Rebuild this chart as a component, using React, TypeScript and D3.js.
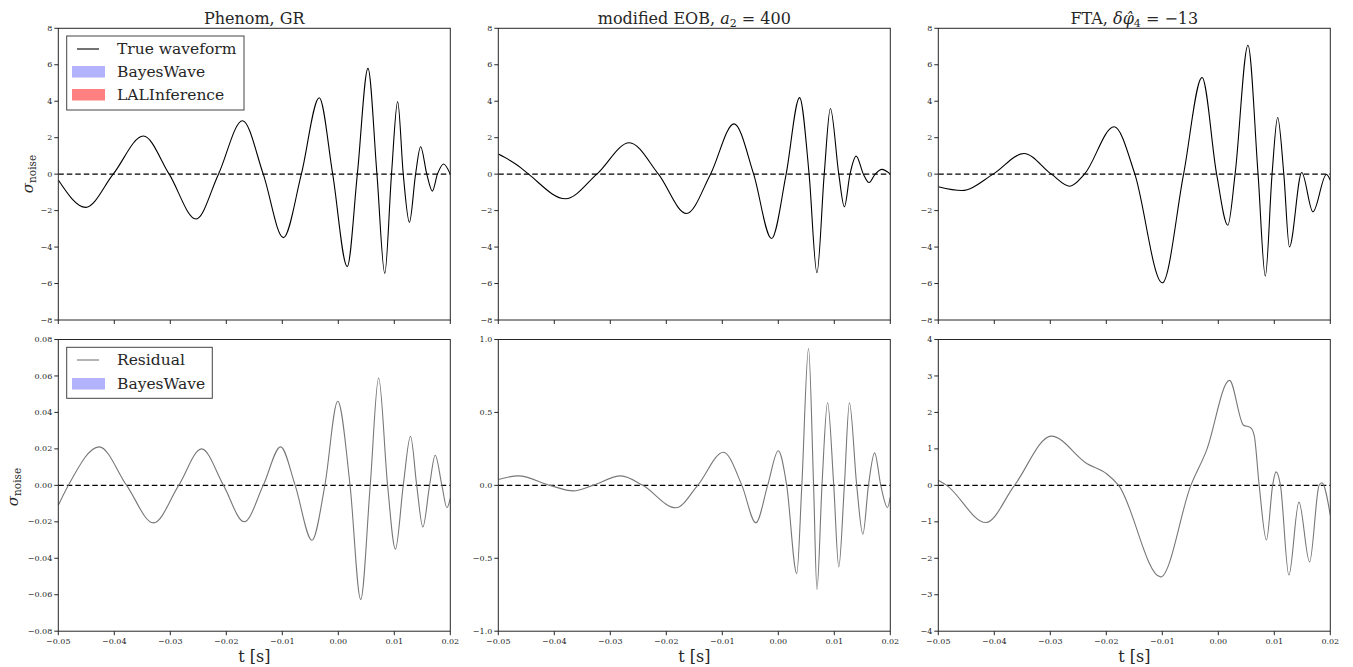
import React from "react";
import * as d3 from "d3";

// ---------- data ----------
const xTicks = [-0.05, -0.04, -0.03, -0.02, -0.01, 0.0, 0.01, 0.02];

const topTicks = [-8, -6, -4, -2, 0, 2, 4, 6, 8];
const resPTicks = [-0.08, -0.06, -0.04, -0.02, 0.0, 0.02, 0.04, 0.06, 0.08];
const resETicks = [-1.0, -0.5, 0.0, 0.5, 1.0];
const resFTicks = [-4, -3, -2, -1, 0, 1, 2, 3, 4];

// Phenom, GR – true waveform
const phenomT = [-0.05, -0.0451, -0.0402, -0.0348, -0.0302, -0.0254, -0.0214, -0.0171, -0.0134, -0.0098, -0.0066, -0.0034, -0.001, 0.0016, 0.0034, 0.0053, 0.0069, 0.0083, 0.0095, 0.0106, 0.0116, 0.0127, 0.0138, 0.0147, 0.0158, 0.0168, 0.0177, 0.0188, 0.02];
const phenomV = [-0.32, -1.82, 0, 2.09, 0, -2.46, 0, 2.93, 0, -3.48, 0, 4.19, 0, -5.07, 0, 5.8, 0, -5.44, 0, 3.98, 0, -2.64, 0, 1.5, 0, -0.93, 0, 0.56, 0];

// modified EOB – true waveform
const eobT = [-0.05, -0.0479, -0.0464, -0.0446, -0.038, -0.0324, -0.0266, -0.0214, -0.0164, -0.0121, -0.0079, -0.0044, -0.0012, 0.0014, 0.0038, 0.0055, 0.0069, 0.0082, 0.0093, 0.0108, 0.0118, 0.0128, 0.0139, 0.0152, 0.0162, 0.0173, 0.0185, 0.02];
const eobV = [1.1, 0.75, 0.45, 0, -1.35, 0, 1.72, 0, -2.16, 0, 2.76, 0, -3.53, 0, 4.2, 0, -5.41, 0, 3.6, 0, -1.79, 0, 0.99, 0, -0.46, 0, 0.26, 0];

// FTA – true waveform
const ftaT = [-0.05, -0.0458, -0.0402, -0.0347, -0.0298, -0.0265, -0.0239, -0.0186, -0.0149, -0.01, -0.0062, -0.0029, -0.0003, 0.0017, 0.003, 0.0053, 0.0071, 0.0084, 0.0096, 0.0106, 0.0117, 0.0127, 0.0149, 0.0169, 0.0193, 0.02];
const ftaV = [-0.69, -0.9, 0, 1.13, 0, -0.66, 0, 2.6, 0, -5.96, 0, 5.3, 0, -2.8, 0, 7.07, 0, -5.59, 0, 3.11, 0, -3.99, 0.09, -2.07, -0.02, -0.33];

// Phenom, GR – residual
const resPT = [-0.05, -0.0482, -0.0427, -0.0378, -0.033, -0.0285, -0.0244, -0.0205, -0.0168, -0.0134, -0.0103, -0.0077, -0.0047, -0.0024, -0.0001, 0.0021, 0.004, 0.0057, 0.0072, 0.0088, 0.0102, 0.0116, 0.0129, 0.014, 0.0151, 0.0163, 0.0173, 0.0185, 0.0194, 0.02];
const resPV = [-0.011, 0, 0.0211, 0, -0.0206, 0, 0.02, 0, -0.02, 0, 0.0211, 0, -0.0301, 0, 0.0461, 0, -0.0626, 0, 0.0589, 0, -0.035, 0, 0.0269, 0, -0.0228, 0, 0.0165, 0, -0.0123, -0.0072];

// modified EOB – residual
const resET = [-0.05, -0.0464, -0.0408, -0.0366, -0.0331, -0.0281, -0.0242, -0.0183, -0.0144, -0.0098, -0.0065, -0.004, -0.0019, 0.0, 0.0015, 0.0033, 0.0042, 0.0054, 0.0063, 0.0069, 0.0078, 0.0088, 0.0099, 0.0108, 0.0118, 0.0127, 0.014, 0.0151, 0.0161, 0.0172, 0.0183, 0.0195, 0.02];
const resEV = [0.04, 0.065, 0, -0.038, 0, 0.065, 0, -0.154, 0, 0.227, 0, -0.257, 0, 0.237, 0, -0.605, 0, 0.938, 0, -0.714, 0, 0.568, 0, -0.559, 0, 0.566, 0, -0.335, 0, 0.223, 0, -0.152, -0.08];

// FTA – residual
const resFT = [-0.05, -0.0485, -0.0415, -0.0364, -0.0298, -0.0235, -0.0199, -0.0178, -0.0103, -0.0049, -0.0021, 0.002, 0.0045, 0.0057, 0.0064, 0.0073, 0.0086, 0.0097, 0.0103, 0.0111, 0.0126, 0.0144, 0.0163, 0.018, 0.0185, 0.02];
const resFV = [0.142, 0, -1.02, 0, 1.35, 0.6, 0.31, 0, -2.51, 0, 0.96, 2.88, 1.65, 1.59, 1.38, 0, -1.5, 0, 0.37, 0, -2.46, -0.46, -2.1, 0, 0.07, -0.82];

// ---------- layout ----------
const W = 1353;
const H = 667;
const colX = [58.3, 498.3, 938.3];
const PW = 392;
const rowY = [28.3, 339.5];
const PH = 291.7;
const FONT = "'DejaVu Serif', serif";
const INK = "#262626";

const fmtMinus = (s: string) => s.replace("-", "\u2212");

type PanelProps = {
  x0: number;
  y0: number;
  t: number[];
  v: number[];
  yDomain: [number, number];
  yTicks: number[];
  yFmt: (d: number) => string;
  color: string;
  showXLabels: boolean;
  id: string;
};

function Panel({ x0, y0, t, v, yDomain, yTicks, yFmt, color, showXLabels, id }: PanelProps) {
  const x = d3.scaleLinear().domain([-0.05, 0.02]).range([x0, x0 + PW]);
  const y = d3.scaleLinear().domain(yDomain).range([y0 + PH, y0]);
  const pts = t.map((d, i) => [d, v[i]] as [number, number]);
  const line = d3
    .line<[number, number]>()
    .x((d) => x(d[0]))
    .y((d) => y(d[1]))
    .curve(d3.curveMonotoneX);
  const xf = d3.format(".2f");
  return (
    <g>
      <defs>
        <clipPath id={id}>
          <rect x={x0} y={y0} width={PW} height={PH} />
        </clipPath>
      </defs>
      <line x1={x0} x2={x0 + PW} y1={y(0)} y2={y(0)} stroke="#000" strokeWidth={1.2} strokeDasharray="5.5,3" />
      <path d={line(pts) || ""} fill="none" stroke={color} strokeWidth={1.1} clipPath={`url(#${id})`} />
      <rect x={x0} y={y0} width={PW} height={PH} fill="none" stroke={INK} strokeWidth={1} />
      {yTicks.map((d) => (
        <g key={"y" + d}>
          <line x1={x0 - 4} x2={x0} y1={y(d)} y2={y(d)} stroke={INK} strokeWidth={1} />
          <text x={x0 - 6} y={y(d)} dy="0.32em" textAnchor="end" fontSize={8} fontFamily={FONT} fill={INK}>
            {fmtMinus(yFmt(d))}
          </text>
        </g>
      ))}
      {xTicks.map((d) => (
        <g key={"x" + d}>
          <line x1={x(d)} x2={x(d)} y1={y0 + PH} y2={y0 + PH + 4} stroke={INK} strokeWidth={1} />
          {showXLabels && (
            <text x={x(d)} y={y0 + PH + 13} textAnchor="middle" fontSize={8} fontFamily={FONT} fill={INK}>
              {fmtMinus(xf(d))}
            </text>
          )}
        </g>
      ))}
    </g>
  );
}

function YLabel({ x, y }: { x: number; y: number }) {
  return (
    <text transform={`translate(${x},${y}) rotate(-90)`} textAnchor="middle" fontFamily={FONT} fill={INK}>
      <tspan fontSize={15} fontStyle="italic">σ</tspan>
      <tspan fontSize={10.5} dy={3}>noise</tspan>
    </text>
  );
}

export default function App() {
  const topFmt = (d: number) => d3.format("d")(d);
  const blue = "#b2b2fd";
  const red = "#fe8080";
  const cx = (i: number) => colX[i] + PW / 2;
  return (
    <svg width={W} height={H} style={{ position: "absolute", left: 0, top: 0, background: "#fff" }}>
      <rect x={0} y={0} width={W} height={H} fill="#fff" />
      {/* titles */}
      <text x={cx(0)} y={24} textAnchor="middle" fontSize={16} fontFamily={FONT} fill={INK}>
        Phenom, GR
      </text>
      <text x={cx(1)} y={24} textAnchor="middle" fontSize={16} fontFamily={FONT} fill={INK}>
        modified EOB, <tspan fontStyle="italic">a</tspan>
        <tspan fontSize={11} dy={3}>2</tspan>
        <tspan dy={-3}> = 400</tspan>
      </text>
      <text x={cx(2)} y={24} textAnchor="middle" fontSize={16} fontFamily={FONT} fill={INK}>
        FTA, <tspan fontStyle="italic">δφ̂</tspan>
        <tspan fontSize={11} dy={3}>4</tspan>
        <tspan dy={-3}> = −13</tspan>
      </text>

      <Panel id="c0" x0={colX[0]} y0={rowY[0]} t={phenomT} v={phenomV} yDomain={[-8, 8]} yTicks={topTicks} yFmt={topFmt} color="#000" showXLabels={false} />
      <Panel id="c1" x0={colX[1]} y0={rowY[0]} t={eobT} v={eobV} yDomain={[-8, 8]} yTicks={topTicks} yFmt={topFmt} color="#000" showXLabels={false} />
      <Panel id="c2" x0={colX[2]} y0={rowY[0]} t={ftaT} v={ftaV} yDomain={[-8, 8]} yTicks={topTicks} yFmt={topFmt} color="#000" showXLabels={false} />
      <Panel id="c3" x0={colX[0]} y0={rowY[1]} t={resPT} v={resPV} yDomain={[-0.08, 0.08]} yTicks={resPTicks} yFmt={d3.format(".2f")} color="#777" showXLabels={true} />
      <Panel id="c4" x0={colX[1]} y0={rowY[1]} t={resET} v={resEV} yDomain={[-1, 1]} yTicks={resETicks} yFmt={d3.format(".1f")} color="#777" showXLabels={true} />
      <Panel id="c5" x0={colX[2]} y0={rowY[1]} t={resFT} v={resFV} yDomain={[-4, 4]} yTicks={resFTicks} yFmt={topFmt} color="#777" showXLabels={true} />

      <YLabel x={33} y={174} />
      <YLabel x={18} y={487} />

      {[0, 1, 2].map((i) => (
        <text key={"xl" + i} x={cx(i)} y={662} textAnchor="middle" fontSize={16} fontFamily={FONT} fill={INK}>
          t [s]
        </text>
      ))}

      {/* top legend */}
      <g fontFamily={FONT} fontSize={15.5} fill={INK}>
        <rect x={66.7} y={36} width={177.3} height={74} fill="#fff" stroke="#444" strokeWidth={1} />
        <line x1={77} x2={99} y1={49} y2={49} stroke="#000" strokeWidth={1.1} />
        <text x={117} y={49} dy="0.35em">True waveform</text>
        <rect x={72} y={66} width={33} height={11.5} fill={blue} />
        <text x={117} y={72} dy="0.35em">BayesWave</text>
        <rect x={72} y={89} width={33} height={11.5} fill={red} />
        <text x={117} y={95} dy="0.35em">LALInference</text>
      </g>
      {/* bottom legend */}
      <g fontFamily={FONT} fontSize={15.5} fill={INK}>
        <rect x={66.7} y={347.3} width={145.6} height={51} fill="#fff" stroke="#444" strokeWidth={1} />
        <line x1={77} x2={99} y1={360} y2={360} stroke="#777" strokeWidth={1.1} />
        <text x={117} y={360} dy="0.35em">Residual</text>
        <rect x={72} y={378} width={33} height={11.5} fill={blue} />
        <text x={117} y={384} dy="0.35em">BayesWave</text>
      </g>
    </svg>
  );
}
